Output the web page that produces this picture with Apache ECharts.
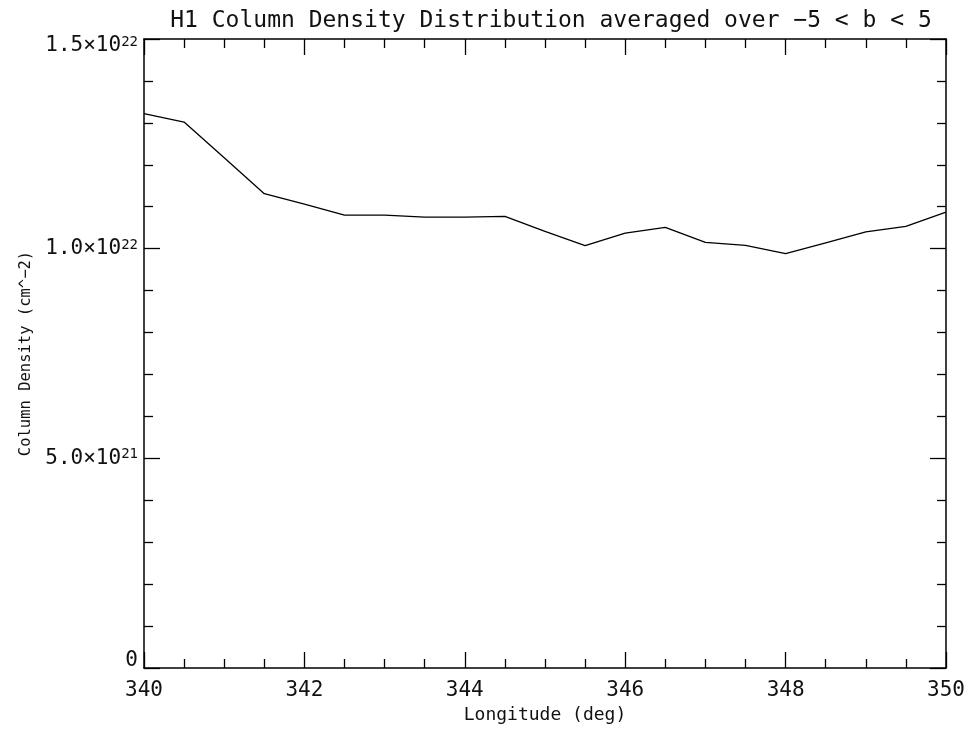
<!DOCTYPE html>
<html><head><meta charset="utf-8">
<script src="https://cdn.jsdelivr.net/npm/echarts@6/dist/echarts.min.js"></script>
<style>html,body{margin:0;padding:0;background:#fff}#c{width:970px;height:730px}</style>
</head><body><div id="c"></div>
<script>
const longitude = [340,340.5,341,341.5,342,342.5,343,343.5,344,344.5,345,345.5,346,346.5,347,347.5,348,348.5,349,349.5,350];
const density = [1.322e22,1.302e22,1.217e22,1.131e22,1.106e22,1.080e22,1.080e22,1.075e22,1.075e22,1.077e22,1.041e22,1.007e22,1.037e22,1.051e22,1.015e22,1.008e22,0.988e22,1.014e22,1.040e22,1.053e22,1.087e22];
const yTickValues = [0, 5e21, 1e22, 1.5e22];
const yTickLabels = ['{z|0}', '{n|5.0×10}{s|21}', '{n|1.0×10}{s|22}', '{t|1.5×10}{ts|22}'];
const titleText = 'H1 Column Density Distribution averaged over \u22125 < b < 5';
const xName = 'Longitude (deg)';
const yName = 'Column Density (cm^\u22122)';

const FONT = 'DejaVu Sans Mono';
const COL = '#111';
const chart = echarts.init(document.getElementById('c'), null, {renderer:'canvas'});
const axLine = {show:true, onZero:false, lineStyle:{color:'#000', width:1.5}};
const tickCommon = {show:true, inside:true, length:16, lineStyle:{color:'#000', width:1.3}};
const minorCommon = (n)=>({show:true, splitNumber:n, length:9, lineStyle:{color:'#000', width:1.3}});
function yLabel(v){
  const i = yTickValues.findIndex(t=>Math.abs(t-v) < 1);
  return i>=0 ? yTickLabels[i] : '';
}
chart.setOption({
  animation:false,
  backgroundColor:'#fff',
  title:{text:titleText, left:546, top:5, textAlign:'center',
    textStyle:{fontFamily:FONT, fontWeight:'normal', fontSize:23, color:COL}},
  grid:{left:144, right:24, top:39, bottom:62},
  xAxis:[{
    type:'value', min:340, max:350, interval:2, position:'bottom',
    name:xName, nameLocation:'middle', nameGap:38,
    nameTextStyle:{fontFamily:FONT, fontSize:18, color:COL},
    axisLine:axLine, axisTick:tickCommon, minorTick:minorCommon(4),
    splitLine:{show:false}, minorSplitLine:{show:false},
    axisLabel:{fontFamily:FONT, fontSize:21, color:COL, margin:12}
  },{
    type:'value', min:340, max:350, interval:2, position:'top',
    axisLine:axLine, axisTick:tickCommon, minorTick:minorCommon(4),
    splitLine:{show:false}, axisLabel:{show:false}
  }],
  yAxis:[{
    type:'value', min:0, max:1.5e22, interval:5e21, position:'left',
    name:yName, nameLocation:'middle', nameGap:108, nameRotate:90,
    nameTextStyle:{fontFamily:FONT, fontSize:15.5, color:COL},
    axisLine:axLine, axisTick:tickCommon, minorTick:minorCommon(5),
    splitLine:{show:false},
    axisLabel:{fontFamily:FONT, fontSize:21, color:COL, margin:6,
      formatter:yLabel,
      rich:{
        n:{fontFamily:FONT, fontSize:21, color:COL},
        s:{fontFamily:FONT, fontSize:14, color:COL, verticalAlign:'top'},
        z:{fontFamily:FONT, fontSize:21, color:COL, padding:[0,0,14,0]},
        t:{fontFamily:FONT, fontSize:21, color:COL, verticalAlign:'top', padding:[13,0,0,0]},
        ts:{fontFamily:FONT, fontSize:14, color:COL, verticalAlign:'top', padding:[13,0,0,0]}
      }}
  },{
    type:'value', min:0, max:1.5e22, interval:5e21, position:'right',
    axisLine:axLine, axisTick:tickCommon, minorTick:minorCommon(5),
    splitLine:{show:false}, axisLabel:{show:false}
  }],
  series:[{
    type:'line', xAxisIndex:0, yAxisIndex:0,
    data:longitude.map((x,i)=>[x, density[i]]),
    showSymbol:false, symbol:'none',
    lineStyle:{color:'#000', width:1.3}
  }]
});
</script></body></html>
